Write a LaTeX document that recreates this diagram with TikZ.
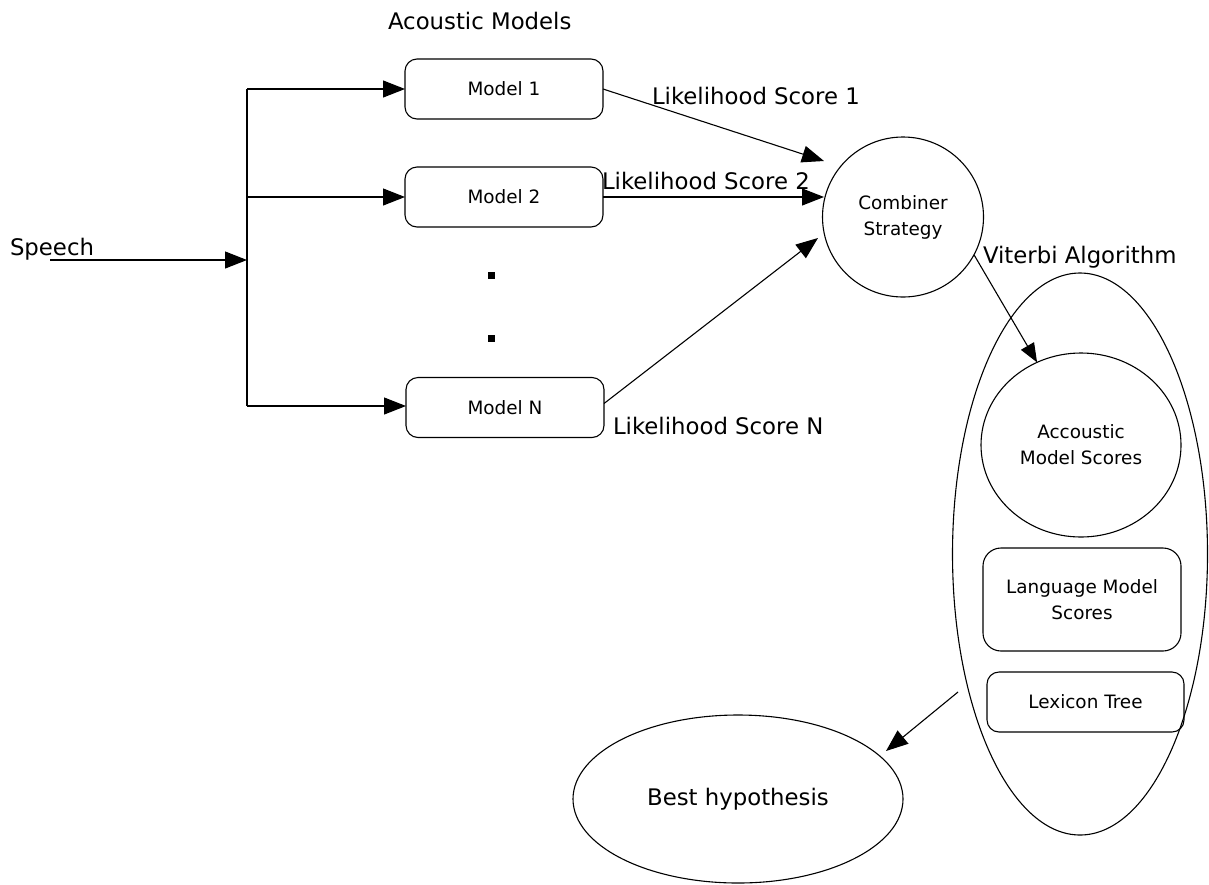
\documentclass[tikz,border=0pt]{standalone}
\usepackage{fontspec}
\setmainfont{DejaVu Sans}
\usetikzlibrary{arrows.meta,shapes.geometric}
\begin{document}
\begin{tikzpicture}[x=1pt,y=-1pt,
  line width=1.1pt,
  every node/.style={inner sep=0pt,outer sep=0pt},
  lbl/.style={anchor=base west,font=\fontsize{22.8}{27}\selectfont},
  inner/.style={font=\fontsize{18.4}{26}\selectfont,align=center},
  modelbox/.style={inner,draw,rounded corners=12pt,minimum width=198pt,minimum height=60pt},
  roundnode/.style={inner,draw,ellipse},
  arr/.style={-{Triangle[length=22pt,width=17pt]}},
  dotsq/.style={fill,minimum size=7pt}]
\useasboundingbox (0,0) rectangle (1209,884);

% acoustic model bank
\node[lbl] (amtitle) at (388,29) {Acoustic Models};
\node[modelbox] (m1) at (504,89) {Model 1};
\node[modelbox] (m2) at (504,197) {Model 2};
\node[modelbox] (mN) at (505,407.5) {Model N};
\node[dotsq] (d1) at (491,275) {};
\node[dotsq] (d2) at (491,338) {};

% speech input and fan-out
\node[lbl] (speech) at (10,255) {Speech};
\coordinate (s0) at (50,260);
\coordinate (sj) at (247,260);
\coordinate (j1) at (247,89);
\coordinate (j2) at (247,197);
\coordinate (jN) at (247,406);
\draw[arr] (s0) -- (sj);
\draw (j1) -- (jN);
\draw[arr] (j1) -- (m1.west);
\draw[arr] (j2) -- (m2.west);
\draw[arr] (jN) -- (mN.west |- jN);

% combiner
\node[roundnode,minimum width=161pt,minimum height=160pt] (comb) at (903,217) {Combiner\\Strategy};
\coordinate (t1) at (824,161);
\coordinate (t2) at (824,197);
\coordinate (t3) at (818,238);
\draw[arr] (m1.east) -- (t1);
\draw[arr] (m2.east) -- (t2);
\draw[arr] ([yshift=4pt]mN.east) -- (t3);
\node[lbl] (ls1) at (652,104) {Likelihood Score 1};
\node[lbl] (ls2) at (602,189) {Likelihood Score 2};
\node[lbl] (lsN) at (613,434) {Likelihood Score N};

% Viterbi search
\node[lbl] (vlabel) at (983,263) {Viterbi Algorithm};
\node[draw,ellipse,minimum width=255pt,minimum height=562pt] (vit) at (1080,554) {};
\node[roundnode,minimum width=200pt,minimum height=184pt] (ams) at (1081,445) {Accoustic\\Model Scores};
\node[inner,draw,rounded corners=18pt,minimum width=198pt,minimum height=103pt] (lms) at (1082,599.5) {Language Model\\Scores};
\node[modelbox,minimum width=197pt] (lex) at (1085.5,702) {Lexicon Tree};
\draw[-{Triangle[length=19pt,width=15pt]}] (comb.-28.5) -- (ams.118);

% output
\node[draw,ellipse,minimum width=330pt,minimum height=168pt,font=\fontsize{22.8}{27}\selectfont] (best) at (738,799) {Best hypothesis};
\coordinate (bstart) at (958,692);
\coordinate (bend) at (886,751);
\draw[arr] (bstart) -- (bend);
\end{tikzpicture}
\end{document}
